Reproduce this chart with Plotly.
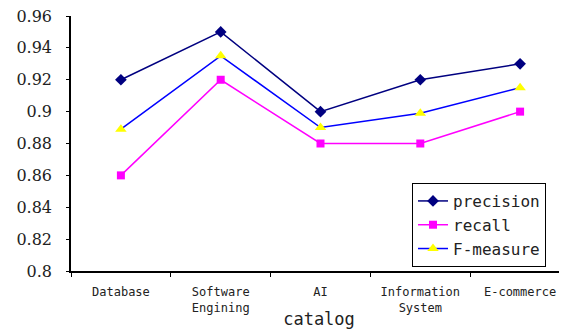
import plotly.graph_objects as go

categories = ["Database", "Software<br>Engining", "AI", "Information<br>System", "E-commerce"]
precision = [0.92, 0.95, 0.90, 0.92, 0.93]
recall = [0.86, 0.92, 0.88, 0.88, 0.90]
f_measure = [0.889, 0.935, 0.890, 0.899, 0.915]
y_ticks = [0.8, 0.82, 0.84, 0.86, 0.88, 0.9, 0.92, 0.94, 0.96]

MONO = "DejaVu Sans Mono"
SERIF = "DejaVu Serif"

fig = go.Figure()
fig.add_trace(go.Scatter(x=categories, y=precision, name="precision", mode="lines+markers",
                         line=dict(color="#000080", width=1.5),
                         marker=dict(symbol="diamond", size=9, color="#000080")))
fig.add_trace(go.Scatter(x=categories, y=recall, name="recall", mode="lines+markers",
                         line=dict(color="#FF00FF", width=1.5),
                         marker=dict(symbol="square", size=8, color="#FF00FF")))
fig.add_trace(go.Scatter(x=categories, y=f_measure, name="F-measure", mode="lines+markers",
                         line=dict(color="#0000FF", width=1.5),
                         marker=dict(symbol="triangle-up", size=10, color="#FFFF00")))

fig.update_layout(
    width=559, height=321,
    margin=dict(l=63, r=0, t=8, b=58),
    paper_bgcolor="white", plot_bgcolor="white",
    showlegend=True,
    legend=dict(x=0.6875, y=0.345, xanchor="left", yanchor="top",
                bordercolor="black", borderwidth=1, bgcolor="white",
                font=dict(family=MONO, size=16, color="#222"),
                tracegroupgap=0),
    xaxis=dict(type="category", categoryorder="array", categoryarray=categories,
               range=[-0.5, 4.47], tickson="boundaries", ticks="outside", ticklen=4,
               tickcolor="black", showline=True, linecolor="black", linewidth=1.5,
               showgrid=False, zeroline=False, automargin=False, ticklabelstandoff=9,
               tickfont=dict(family=MONO, size=12, color="#222"),
               title=dict(text="catalog", font=dict(family=MONO, size=17, color="#222"),
                          standoff=2)),
    yaxis=dict(range=[0.8, 0.96], tickvals=y_ticks, ticks="outside", ticklen=3,
               tickcolor="black", showline=True, linecolor="black", linewidth=1.5,
               showgrid=False, zeroline=False, ticklabelstandoff=11, automargin=False,
               ticklabeloverflow="allow",
               tickfont=dict(family=SERIF, size=16, color="#222")),
)
fig.write_html("out.html")
